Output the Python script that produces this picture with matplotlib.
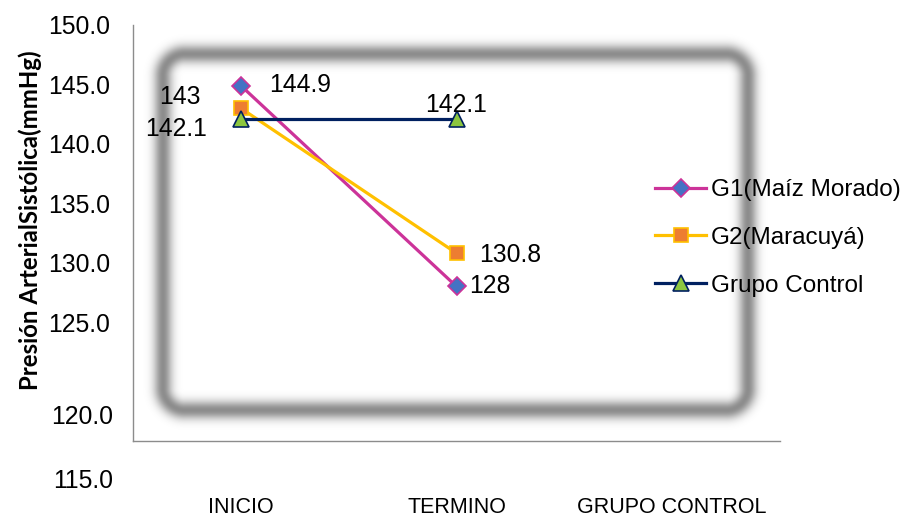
import numpy as np
import matplotlib.pyplot as plt
from matplotlib import font_manager

# Datos de presión arterial sistólica
momentos = ["INICIO", "TERMINO", "GRUPO CONTROL"]
g1_maiz = [144.9, 128]
g2_maracuya = [143, 130.8]
grupo_control = [142.1, 142.1]
marcas_y = [150, 145, 140, 135, 130, 125]
marcas_y_bajas = [120, 115]

nombres = [f.name for f in font_manager.fontManager.ttflist]
fuente = "Liberation Sans" if "Liberation Sans" in nombres else "DejaVu Sans"
plt.rcParams['font.family'] = [fuente, 'DejaVu Sans']

W, H = 905, 524
fig = plt.figure(figsize=(W / 100, H / 100), dpi=100)

# Marco gris difuminado de fondo (rectángulo redondeado)
fondo = fig.add_axes([0, 0, 1, 1], zorder=0)
fondo.set_axis_off()
xx, yy = np.meshgrid(np.arange(W) + 0.5, np.arange(H) + 0.5)
x0, x1, y0, y1, r = 163, 748, 54, 410, 22
cx, cy = (x0 + x1) / 2, (y0 + y1) / 2
hx, hy = (x1 - x0) / 2 - r, (y1 - y0) / 2 - r
qx = np.abs(xx - cx) - hx
qy = np.abs(yy - cy) - hy
d = np.hypot(np.maximum(qx, 0), np.maximum(qy, 0)) + np.minimum(np.maximum(qx, qy), 0) - r
alpha = 0.45 * np.exp(-0.5 * (d / 6.5) ** 2)
img = np.zeros((H, W, 4))
img[..., 3] = alpha
fondo.imshow(img, extent=(0, W, H, 0), interpolation='bilinear')
fondo.set_xlim(0, W)
fondo.set_ylim(H, 0)

ax = fig.add_axes([133 / W, 1 - 441 / H, (780 - 133) / W, (441 - 25) / H], zorder=1)
ax.set_facecolor('none')

x = np.arange(len(g1_maiz))
l1, = ax.plot(x, g1_maiz, color='#CC3399', lw=2.3, marker='D', ms=9.5,
              mfc='#4472C4', mec='#CC3399', mew=1.2, label='G1(Maíz Morado)')
l2, = ax.plot(x, g2_maracuya, color='#FFC000', lw=2.3, marker='s', ms=10.5,
              mfc='#ED7D31', mec='#FFC000', mew=1.2, label='G2(Maracuyá)')
l3, = ax.plot(x, grupo_control, color='#002060', lw=2.3, marker='^', ms=11.5,
              mfc='#8CC63F', mec='#002060', mew=1.2, label='Grupo Control')

ax.set_xlim(-0.5, 2.5)
ax.set_ylim(115, 150)

# Etiquetas de valores
fs = 17.8
def etiqueta(xv, yv, dx, dy, ha):
    ax.annotate(f"{yv:g}", (xv, yv), xytext=(dx, dy), textcoords='offset pixels',
                ha=ha, va='center', fontsize=fs)

etiqueta(x[0], g1_maiz[0], 28, 1, 'left')
etiqueta(x[1], g1_maiz[1], 13, 0, 'left')
etiqueta(x[0], g2_maracuya[0], -40, 11, 'right')
etiqueta(x[1], g2_maracuya[1], 23, -2, 'left')
etiqueta(x[0], grupo_control[0], -34, -10, 'right')
etiqueta(x[1], grupo_control[1], 0, 14, 'center')

# Ejes
for lado in ['top', 'right']:
    ax.spines[lado].set_visible(False)
for lado in ['left', 'bottom']:
    ax.spines[lado].set_color('#8C8C8C')
    ax.spines[lado].set_linewidth(1)

ax.set_yticks(marcas_y)
ax.set_yticklabels([f"{v:.1f}" for v in marcas_y], fontsize=fs)
ax.tick_params(axis='y', length=0, pad=16.5)
ax.annotate(f"{marcas_y_bajas[0]:.1f}", (0, marcas_y_bajas[0]), xycoords=('axes fraction', 'data'),
            xytext=(-20, -35), textcoords='offset pixels', ha='right', va='center',
            fontsize=fs, annotation_clip=False)
ax.annotate(f"{marcas_y_bajas[1]:.1f}", (0, marcas_y_bajas[1]), xycoords=('axes fraction', 'data'),
            xytext=(-20, -40), textcoords='offset pixels', ha='right', va='center',
            fontsize=fs, annotation_clip=False)

ax.set_xticks(range(len(momentos)))
ax.set_xticklabels(momentos, fontsize=15.5)
ax.tick_params(axis='x', length=0, pad=40)

fig.text(30 / W, 1 - 220 / H, "Presión ArterialSistólica(mmHg)", rotation=90,
         ha='center', va='center', fontsize=17.3, fontweight='bold', family=['Lato', 'DejaVu Sans'])

ax.legend(handles=[l1, l2, l3], loc='center left', bbox_to_anchor=(655 / W, 1 - 238 / H),
          bbox_transform=fig.transFigure, frameon=False, fontsize=17.5, borderpad=0,
          borderaxespad=0, handlelength=2.1, handletextpad=0.2, labelspacing=1.05)

fig.savefig("out.png", dpi=100)
